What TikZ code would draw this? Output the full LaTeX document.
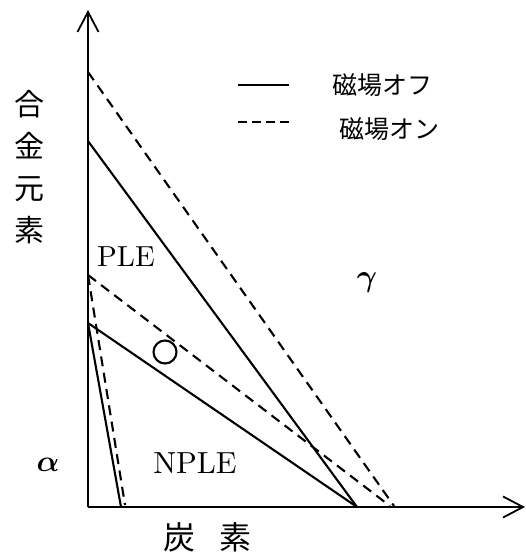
\documentclass[tikz,border=0pt]{standalone}
\usepackage{amsmath}
\usepackage{bm}
\usepackage{fontspec}
\newfontfamily\jp{Noto Sans CJK JP}
\usetikzlibrary{arrows.meta}
\begin{document}
\begin{tikzpicture}[x=1pt,y=-1pt,
  axis/.style={line width=2.1pt,-{Straight Barb[length=20pt,width=21pt,line width=1.8pt]}},
  solidline/.style={line width=2.1pt},
  dashline/.style={line width=2.1pt,dash pattern=on 10pt off 6.5pt},
  lbl/.style={inner sep=0pt,anchor=center},
  jplbl/.style={lbl,font=\jp\fontsize{25}{28}\selectfont},
  latlbl/.style={lbl,font=\fontsize{10}{12}\selectfont}]
\useasboundingbox (0,0) rectangle (525,554);
\coordinate (O) at (88,507);
\coordinate (Ytop) at (88,10);
\coordinate (Xend) at (525,507);
\coordinate (A1) at (88,72);
\coordinate (A2) at (88,141);
\coordinate (A3) at (88,275);
\coordinate (A4) at (88,323);
\coordinate (B1) at (121,507);
\coordinate (B2) at (125,505);
\coordinate (B3) at (357,507);
\coordinate (B4) at (390,506);
\coordinate (B5) at (394,506);
\draw[axis] (O) -- (Ytop);
\draw[axis] (O) -- (Xend);
\draw[solidline] (A2) -- (B3);
\draw[solidline] (A4) -- (B3);
\draw[solidline] (A4) -- (B1);
\draw[dashline] (A1) -- (B5);
\draw[dashline] (A3) -- (B4);
\draw[dashline] (A3) -- (B2);
\node[draw,circle,line width=2.1pt,minimum size=23pt,inner sep=0pt] (circ) at (165,352) {};
% legend
\coordinate (L1a) at (238,85);
\coordinate (L1b) at (289,85);
\coordinate (L2a) at (238,122);
\coordinate (L2b) at (289,122);
\draw[solidline] (L1a) -- (L1b);
\draw[line width=2.1pt,dash pattern=on 9pt off 5pt] (L2a) -- (L2b);
\node[jplbl] (off) at (382,85) {磁場オフ};
\node[jplbl] (on) at (389,129) {磁場オン};
% labels
\node[lbl,font=\jp\fontsize{30}{42}\selectfont,align=center] (yl) at (29,167) {合\\金\\元\\素};
\node[lbl,font=\jp\fontsize{32}{36}\selectfont] (xl) at (207,537) {炭\hspace{24pt}素};
\node[latlbl] (ple) at (126,257) {\scalebox{2.9}{PLE}};
\node[latlbl] (nple) at (195,463) {\scalebox{3.05}{NPLE}};
\node[latlbl] (alpha) at (48,465) {\scalebox{3.0}{$\bm{\alpha}$}};
\node[latlbl] (gamma) at (367,283) {\scalebox{3.1}{$\bm{\gamma}$}};
\end{tikzpicture}
\end{document}
